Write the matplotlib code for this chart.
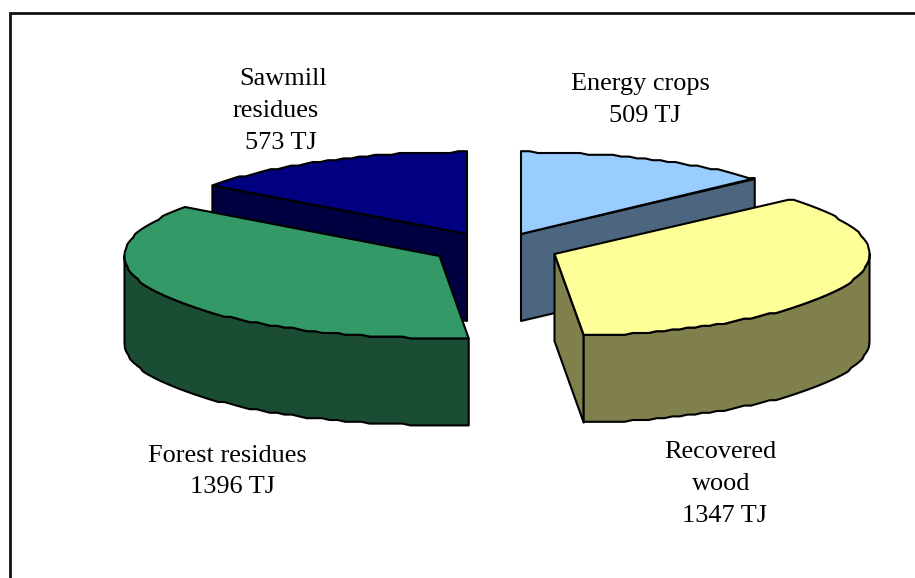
import numpy as np
import matplotlib
matplotlib.use("Agg")
import matplotlib.pyplot as plt
from matplotlib.patches import Polygon

# Wood energy supply by source, in TJ
sources = ["Energy crops", "Recovered wood", "Forest residues", "Sawmill residues"]
supply_tj = [509, 1347, 1396, 573]
top_colors = ["#99ccff", "#ffff99", "#339966", "#000080"]
side_colors = ["#4d6680", "#80804d", "#1a4d33", "#000040"]

# Centre of each exploded wedge's top face, on a pixel-sized canvas
centres = [(521, 234), (554.5, 254), (439.5, 256), (467, 234)]
RX, RY, DEPTH = 315, 82, 87

# Label lines: anchor positions per source
label_lines = [
    [("Energy crops", 640, 84), ("{v} TJ", 645, 116)],
    [("Recovered", 720, 452), ("wood", 721, 484), ("{v} TJ", 725, 516)],
    [("Forest residues", 227, 456), ("{v} TJ", 233, 487)],
    [("Sawmill", 283, 79), ("residues", 276, 111), ("{v} TJ", 281, 143)],
]

plt.rcParams["font.family"] = ["Liberation Serif", "DejaVu Serif"]
fig = plt.figure(figsize=(9.15, 5.78), dpi=100)
ax = fig.add_axes([0, 0, 1, 1])
ax.set_xlim(0, 915)
ax.set_ylim(578, 0)
ax.axis("off")


def rim(cx, cy, start, stop, drop=0.0):
    """Points along the elliptical rim, clockwise from 12 o'clock (degrees)."""
    n = max(2, int(abs(stop - start) / 1.5) + 1)
    t = np.radians(np.linspace(start, stop, n))
    x = cx + RX * np.sin(t)
    # Slight vertical snapping gives the rim its stepped outline
    y = np.round((cy - RY * np.cos(t)) / 1.8) * 1.8 + drop
    return np.column_stack([x, y])


def face(points, color, z):
    ax.add_patch(Polygon(points, closed=True, facecolor=color, edgecolor="black",
                         linewidth=1.5, joinstyle="round", zorder=z))


def wall(cx, cy, angle, color, z):
    """Flat cut face of a wedge, running from the centre out to the rim."""
    t = np.radians(angle)
    px, py = cx + RX * np.sin(t), cy - RY * np.cos(t)
    face([(cx, cy), (px, py), (px, py + DEPTH), (cx, cy + DEPTH)], color, z)


def outer_side(cx, cy, start, stop, color, z):
    upper = rim(cx, cy, start, stop)
    lower = rim(cx, cy, start, stop, DEPTH)[::-1]
    face(np.vstack([upper, lower]), color, z)


fractions = np.array(supply_tj) / sum(supply_tj)
edges = np.concatenate([[0], np.cumsum(fractions) * 360])

# Back wedges are painted first so the front ones overlap them
paint_order = [0, 3, 2, 1]
for z, i in enumerate(paint_order):
    a0, a1 = edges[i], edges[i + 1]
    cx, cy = centres[i]
    base = z * 10 + 2
    if i == 0:
        wall(cx, cy, a1, side_colors[i], base)
    elif i == 1:
        wall(cx, cy, a1, side_colors[i], base)
        outer_side(cx, cy, max(a0, 90), a1, side_colors[i], base + 1)
    elif i == 2:
        outer_side(cx, cy, a0, 270, side_colors[i], base)
    else:
        wall(cx, cy, a0, side_colors[i], base)
    top = np.vstack([[(cx, cy)], rim(cx, cy, a0, a1)])
    face(top, top_colors[i], base + 2)

for lines, value in zip(label_lines, supply_tj):
    for text, x, y in lines:
        ax.text(x, y, text.format(v=value), ha="center", va="center",
                fontsize=18.9, color="black", zorder=100)

# Chart frame runs past the right and bottom of the canvas
ax.plot([10, 10, 930], [590, 13, 13], color="#111111", lw=2.0, solid_joinstyle="miter",
        zorder=90, clip_on=True)

fig.savefig("out.png", dpi=100, facecolor="white")
